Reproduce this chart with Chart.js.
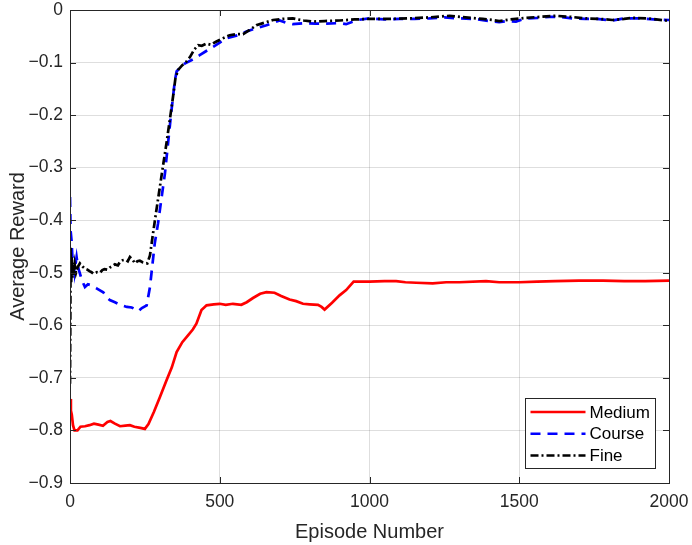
<!DOCTYPE html>
<html>
<head>
<meta charset="utf-8">
<script src="https://cdn.jsdelivr.net/npm/chart.js@4/dist/chart.umd.min.js"></script>
<style>
  html, body { margin: 0; padding: 0; background: #fff; }
  #wrap { width: 692px; height: 545px; }
</style>
</head>
<body>
<div id="wrap"><canvas id="reward-chart" width="692" height="545"></canvas></div>
<script>
// Values (episode, average reward)
const seriesNames = ['Medium', 'Course', 'Fine'];
const seriesColors = ['rgb(255, 0, 0)', 'rgb(0, 0, 255)', 'rgb(0, 0, 0)'];

const mediumEpisodes = [0, 3, 6, 10, 15, 25, 35, 50, 65, 80, 95, 110, 125, 135, 150, 167, 185, 200, 215, 235, 250, 262, 280, 300, 322, 340, 356, 375, 394, 410, 422, 439, 456, 480, 500, 520, 544, 572, 590, 611, 635, 656, 683, 705, 733, 755, 778, 800, 828, 840, 850, 875, 900, 922, 947, 1000, 1050, 1089, 1120, 1156, 1211, 1256, 1300, 1389, 1433, 1500, 1560, 1620, 1700, 1780, 1850, 1920, 2000];
const mediumReward = [-0.740, -0.762, -0.770, -0.790, -0.800, -0.800, -0.793, -0.792, -0.790, -0.787, -0.789, -0.791, -0.784, -0.782, -0.787, -0.792, -0.791, -0.790, -0.793, -0.795, -0.797, -0.788, -0.765, -0.737, -0.705, -0.680, -0.651, -0.632, -0.619, -0.608, -0.597, -0.571, -0.562, -0.560, -0.559, -0.561, -0.559, -0.561, -0.556, -0.548, -0.540, -0.537, -0.538, -0.544, -0.551, -0.554, -0.559, -0.560, -0.561, -0.565, -0.570, -0.557, -0.543, -0.533, -0.517, -0.517, -0.516, -0.516, -0.518, -0.519, -0.520, -0.518, -0.518, -0.516, -0.518, -0.518, -0.517, -0.516, -0.515, -0.515, -0.516, -0.516, -0.515];

const courseEpisodes = [0, 2, 5, 8, 11, 15, 18, 22, 27, 33, 40, 50, 60, 72, 90, 111, 125, 133, 150, 172, 190, 206, 220, 228, 240, 256, 267, 283, 294, 305, 317, 328, 339, 350, 356, 370, 383, 410, 433, 455, 478, 500, 522, 560, 589, 620, 656, 680, 700, 720, 744, 780, 820, 856, 900, 922, 960, 1000, 1050, 1100, 1150, 1200, 1250, 1300, 1350, 1400, 1433, 1460, 1489, 1520, 1560, 1600, 1633, 1680, 1720, 1760, 1811, 1850, 1900, 1950, 2000];
const courseReward = [-0.356, -0.420, -0.438, -0.470, -0.482, -0.500, -0.485, -0.470, -0.490, -0.501, -0.515, -0.527, -0.522, -0.524, -0.530, -0.537, -0.548, -0.552, -0.556, -0.562, -0.565, -0.566, -0.570, -0.573, -0.567, -0.562, -0.527, -0.444, -0.406, -0.360, -0.311, -0.250, -0.190, -0.135, -0.117, -0.108, -0.102, -0.094, -0.086, -0.078, -0.070, -0.062, -0.054, -0.048, -0.041, -0.035, -0.029, -0.024, -0.020, -0.024, -0.027, -0.025, -0.026, -0.026, -0.025, -0.027, -0.019, -0.016, -0.018, -0.017, -0.017, -0.016, -0.014, -0.016, -0.017, -0.021, -0.023, -0.021, -0.022, -0.016, -0.015, -0.013, -0.013, -0.016, -0.017, -0.017, -0.020, -0.016, -0.016, -0.018, -0.019];

const fineEpisodes = [0, 1, 2, 4, 6, 8, 10, 13, 16, 20, 25, 33, 42, 50, 58, 65, 72, 78, 90, 100, 108, 115, 125, 133, 142, 150, 160, 167, 176, 185, 193, 200, 210, 217, 225, 233, 242, 250, 258, 267, 278, 290, 300, 311, 322, 333, 344, 352, 361, 375, 389, 400, 415, 428, 440, 456, 470, 489, 510, 533, 555, 578, 600, 622, 650, 678, 710, 744, 780, 811, 850, 900, 950, 1000, 1060, 1133, 1200, 1267, 1320, 1378, 1410, 1433, 1470, 1522, 1570, 1622, 1670, 1722, 1770, 1811, 1850, 1878, 1930, 1989, 2000];
const fineReward = [-0.711, -0.600, -0.450, -0.520, -0.470, -0.510, -0.480, -0.505, -0.485, -0.500, -0.490, -0.482, -0.488, -0.492, -0.494, -0.497, -0.499, -0.502, -0.499, -0.500, -0.495, -0.493, -0.494, -0.490, -0.487, -0.484, -0.486, -0.479, -0.476, -0.475, -0.478, -0.470, -0.476, -0.482, -0.478, -0.477, -0.480, -0.481, -0.482, -0.467, -0.422, -0.375, -0.337, -0.295, -0.254, -0.210, -0.165, -0.130, -0.114, -0.105, -0.098, -0.090, -0.075, -0.067, -0.068, -0.064, -0.066, -0.060, -0.054, -0.048, -0.046, -0.046, -0.038, -0.029, -0.024, -0.019, -0.017, -0.016, -0.020, -0.022, -0.021, -0.020, -0.018, -0.017, -0.017, -0.016, -0.014, -0.011, -0.014, -0.017, -0.019, -0.021, -0.018, -0.015, -0.013, -0.011, -0.013, -0.016, -0.017, -0.019, -0.017, -0.015, -0.016, -0.020, -0.021];

const xTicks = [0, 500, 1000, 1500, 2000];
const yTicks = [-0.9, -0.8, -0.7, -0.6, -0.5, -0.4, -0.3, -0.2, -0.1, 0];

const FONT = "'Liberation Sans', Arial, Helvetica, sans-serif";
const INK = '#262626';
const dashes = [[], [10, 7], [8, 3, 2, 3]];

function toPoints(xs, ys) {
    let pts = [];
    for (let i = 0; i < xs.length; i++) {
        pts.push({x: xs[i], y: ys[i]});
    }
    return pts;
}

function formatTick(v) {
    const r = Math.round(v * 10) / 10;
    if (r === 0) return '0';
    return r.toFixed(1).replace('-', '\u2212');
}

// MATLAB-like box, inward ticks
const boxPlugin = {
    id: 'box',
    afterDatasetsDraw(chart) {
        const ctx = chart.ctx;
        const a = chart.chartArea;
        const xs = chart.scales.x, ys = chart.scales.y;
        ctx.save();
        ctx.strokeStyle = INK;
        ctx.lineWidth = 1;
        ctx.strokeRect(Math.round(a.left) + 0.5, Math.round(a.top) + 0.5,
            Math.round(a.right - a.left), Math.round(a.bottom - a.top));
        ctx.beginPath();
        const len = 6;
        xTicks.forEach(t => {
            const px = Math.round(xs.getPixelForValue(t)) + 0.5;
            ctx.moveTo(px, a.bottom); ctx.lineTo(px, a.bottom - len);
            ctx.moveTo(px, a.top); ctx.lineTo(px, a.top + len);
        });
        yTicks.forEach(t => {
            const py = Math.round(ys.getPixelForValue(t)) + 0.5;
            ctx.moveTo(a.left, py); ctx.lineTo(a.left + len, py);
            ctx.moveTo(a.right, py); ctx.lineTo(a.right - len, py);
        });
        ctx.stroke();
        ctx.restore();
    }
};

// legend box inside the lower right corner of the plot
const legendBoxPlugin = {
    id: 'legendBox',
    afterDraw(chart) {
        const ctx = chart.ctx;
        const a = chart.chartArea;
        const w = 130, h = 70;
        const x0 = Math.round(a.right - 14 - w) + 0.5;
        const y0 = Math.round(a.bottom - 15 - h) + 0.5;
        ctx.save();
        ctx.fillStyle = '#fff';
        ctx.fillRect(x0, y0, w, h);
        ctx.strokeStyle = INK;
        ctx.lineWidth = 1;
        ctx.strokeRect(x0, y0, w, h);
        ctx.font = '17px ' + FONT;
        ctx.textBaseline = 'middle';
        ctx.textAlign = 'left';
        chart.data.datasets.forEach((ds, i) => {
            const ly = y0 + 13.5 + i * 21.7;
            ctx.beginPath();
            ctx.setLineDash(dashes[i]);
            ctx.strokeStyle = ds.borderColor;
            ctx.lineWidth = 2.5;
            ctx.moveTo(x0 + 5, ly);
            ctx.lineTo(x0 + 60, ly);
            ctx.stroke();
            ctx.setLineDash([]);
            ctx.fillStyle = '#000';
            ctx.fillText(ds.label, x0 + 64, ly + 1);
        });
        ctx.restore();
    }
};

document.addEventListener('DOMContentLoaded', function() {
    const allX = [mediumEpisodes, courseEpisodes, fineEpisodes];
    const allY = [mediumReward, courseReward, fineReward];
    let datasets = [];
    for (let i = 0; i < seriesNames.length; i++) {
        datasets.push({
            label: seriesNames[i],
            data: toPoints(allX[i], allY[i]),
            borderColor: seriesColors[i],
            backgroundColor: seriesColors[i],
            borderWidth: 2.7,
            borderDash: dashes[i],
            pointRadius: 0,
            tension: 0,
            fill: false,
            order: seriesNames.length - i
        });
    }

    new Chart(document.getElementById('reward-chart'), {
        type: 'line',
        data: { datasets: datasets },
        options: {
            responsive: false,
            animation: false,
            layout: { padding: { top: 10, right: 23, left: 0, bottom: 0 } },
            plugins: {
                legend: { display: false },
                tooltip: { enabled: false }
            },
            scales: {
                x: {
                    type: 'linear',
                    min: 0,
                    max: 2000,
                    afterBuildTicks: s => { s.ticks = xTicks.map(v => ({value: v})); },
                    afterFit: s => { s.height = 62; s.paddingLeft = 0; s.paddingRight = 0; },
                    grid: { color: 'rgba(0,0,0,0.13)', drawTicks: false },
                    border: { display: false },
                    ticks: {
                        color: INK,
                        padding: 9,
                        maxRotation: 0,
                        font: { family: FONT, size: 17.5 },
                        callback: v => String(v)
                    },
                    title: {
                        display: true,
                        text: 'Episode Number',
                        color: INK,
                        padding: { top: 0, bottom: 1 },
                        font: { family: FONT, size: 20 }
                    }
                },
                y: {
                    type: 'linear',
                    min: -0.9,
                    max: 0,
                    afterBuildTicks: s => { s.ticks = yTicks.map(v => ({value: v})); },
                    afterFit: s => { s.width = 70; s.paddingTop = 0; s.paddingBottom = 0; },
                    grid: { color: 'rgba(0,0,0,0.13)', drawTicks: false },
                    border: { display: false },
                    ticks: {
                        color: INK,
                        padding: 7,
                        font: { family: FONT, size: 17.5 },
                        callback: formatTick
                    },
                    title: {
                        display: true,
                        text: 'Average Reward',
                        color: INK,
                        padding: { top: 6, bottom: 0 },
                        font: { family: FONT, size: 20 }
                    }
                }
            }
        },
        plugins: [boxPlugin, legendBoxPlugin]
    });
});
</script>
</body>
</html>
